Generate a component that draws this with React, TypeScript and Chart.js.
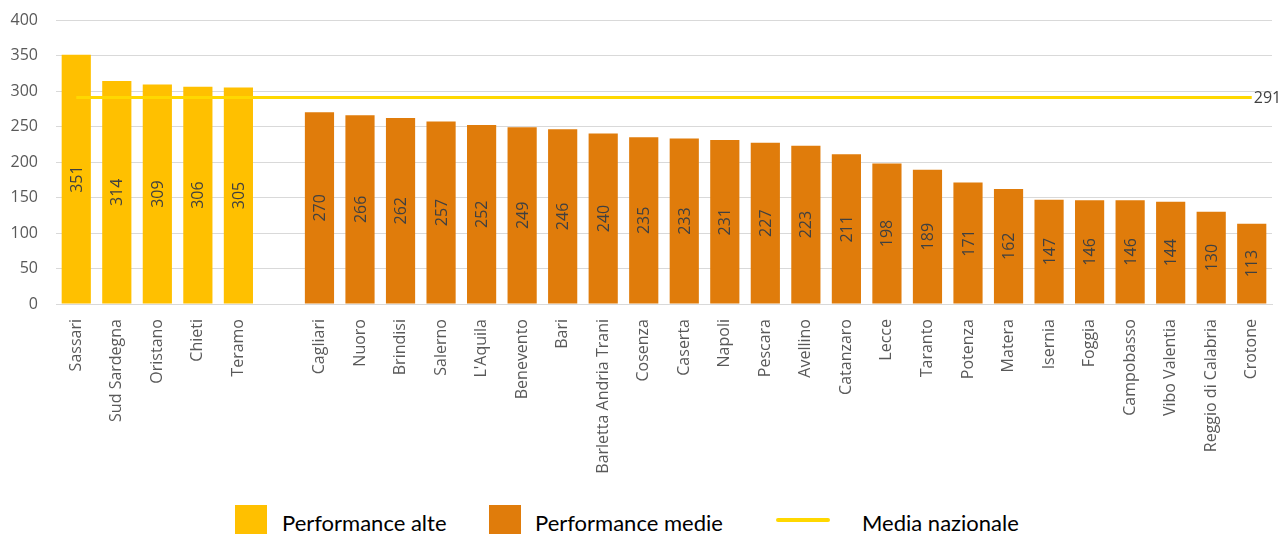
import React, { useEffect, useRef } from "react";
import { Chart, registerables } from "chart.js";
Chart.register(...registerables);

const highCategories = ["Sassari", "Sud Sardegna", "Oristano", "Chieti", "Teramo"];
const highValues = [351, 314, 309, 306, 305];
const mediumCategories = [
  "Cagliari", "Nuoro", "Brindisi", "Salerno", "L'Aquila", "Benevento", "Bari",
  "Barletta Andria Trani", "Cosenza", "Caserta", "Napoli", "Pescara", "Avellino",
  "Catanzaro", "Lecce", "Taranto", "Potenza", "Matera", "Isernia", "Foggia",
  "Campobasso", "Vibo Valentia", "Reggio di Calabria", "Crotone",
];
const mediumValues = [
  270, 266, 262, 257, 252, 249, 246, 240, 235, 233, 231, 227, 223, 211, 198, 189,
  171, 162, 147, 146, 146, 144, 130, 113,
];
const nationalAverage = 291;
const yTicks = { min: 0, max: 400, step: 50 };

const labels = [...highCategories, "", ...mediumCategories];
const highData = [...highValues, ...labels.slice(highValues.length).map(() => null)];
const mediumData = [...highCategories.map(() => null), null, ...mediumValues];
const avgData = labels.map(() => nationalAverage);

const YELLOW = "#FFC000";
const ORANGE = "#E07C0B";
const LINE = "#FFD800";
const FONT = "'Open Sans', sans-serif";

const barLabelPlugin = {
  id: "barLabels",
  afterDatasetsDraw(chart: any) {
    const ctx = chart.ctx;
    ctx.save();
    ctx.font = `16px ${FONT}`;
    ctx.fillStyle = "#404040";
    ctx.textAlign = "center";
    ctx.textBaseline = "middle";
    chart.data.datasets.forEach((ds: any, i: number) => {
      if (ds.type !== "bar") return;
      const meta = chart.getDatasetMeta(i);
      meta.data.forEach((el: any, j: number) => {
        const v = ds.data[j];
        if (v === null || v === undefined) return;
        const cy = (el.y + el.base) / 2;
        ctx.save();
        ctx.translate(el.x, cy);
        ctx.rotate(-Math.PI / 2);
        ctx.fillText(String(v), 0, 1);
        ctx.restore();
      });
    });
    chart.data.datasets.forEach((ds: any, i: number) => {
      if (ds.type !== "line") return;
      const meta = chart.getDatasetMeta(i);
      const last = meta.data[meta.data.length - 1];
      ctx.textAlign = "left";
      ctx.fillText(String(ds.data[ds.data.length - 1]), last.x + 2, last.y + 1);
    });
    ctx.restore();
  },
};

export default function App() {
  const ref = useRef<HTMLCanvasElement>(null);
  useEffect(() => {
    const chart = new Chart(ref.current!, {
      type: "bar",
      data: {
        labels,
        datasets: [
          {
            type: "line",
            label: "Media nazionale",
            data: avgData,
            borderColor: LINE,
            backgroundColor: LINE,
            borderWidth: 3,
            pointRadius: 0,
            order: 0,
          } as any,
          {
            type: "bar",
            label: "Performance alte",
            data: highData,
            backgroundColor: YELLOW,
            grouped: false,
            barPercentage: 0.72,
            categoryPercentage: 1,
            order: 1,
          } as any,
          {
            type: "bar",
            label: "Performance medie",
            data: mediumData,
            backgroundColor: ORANGE,
            grouped: false,
            barPercentage: 0.72,
            categoryPercentage: 1,
            order: 1,
          } as any,
        ],
      },
      options: {
        responsive: false,
        animation: false,
        layout: { padding: { top: 20, right: 12, left: 0, bottom: 0 } },
        plugins: {
          legend: { display: false },
          tooltip: { enabled: false },
        },
        scales: {
          x: {
            grid: { display: false },
            border: { display: true, color: "#d9d9d9" },
            ticks: {
              autoSkip: false,
              minRotation: 90,
              maxRotation: 90,
              padding: 7,
              color: "#595959",
              font: { family: FONT, size: 16 },
            },
            afterFit: (s: any) => {
              s.height = 186;
              s.paddingLeft = 0;
              s.paddingRight = 0;
            },
          },
          y: {
            min: yTicks.min,
            max: yTicks.max,
            grid: { color: "#d9d9d9", drawTicks: false },
            border: { display: false },
            ticks: {
              stepSize: yTicks.step,
              padding: 18,
              color: "#595959",
              font: { family: FONT, size: 16 },
            },
            afterFit: (s: any) => {
              s.width = 56;
              s.paddingTop = 0;
              s.paddingBottom = 0;
            },
          },
        },
      },
      plugins: [barLabelPlugin],
    });
    return () => chart.destroy();
  }, []);

  const legendText: React.CSSProperties = {
    position: "absolute",
    top: 510,
    fontFamily: "Lato, sans-serif",
    fontSize: 22,
    color: "#000",
    lineHeight: "26px",
    whiteSpace: "nowrap",
  };

  return (
    <div style={{ position: "absolute", left: 0, top: 0, width: 1284, height: 534, background: "#fff", overflow: "hidden" }}>
      <canvas ref={ref} width={1284} height={490} style={{ display: "block" }} />
      <div style={{ position: "absolute", left: 235, top: 505, width: 32, height: 30, background: YELLOW }} />
      <div style={{ ...legendText, left: 282 }}>Performance alte</div>
      <div style={{ position: "absolute", left: 489, top: 505, width: 32, height: 30, background: ORANGE }} />
      <div style={{ ...legendText, left: 535 }}>Performance medie</div>
      <div style={{ position: "absolute", left: 776, top: 518, width: 54, height: 4, borderRadius: 2, background: LINE }} />
      <div style={{ ...legendText, left: 862 }}>Media nazionale</div>
    </div>
  );
}
